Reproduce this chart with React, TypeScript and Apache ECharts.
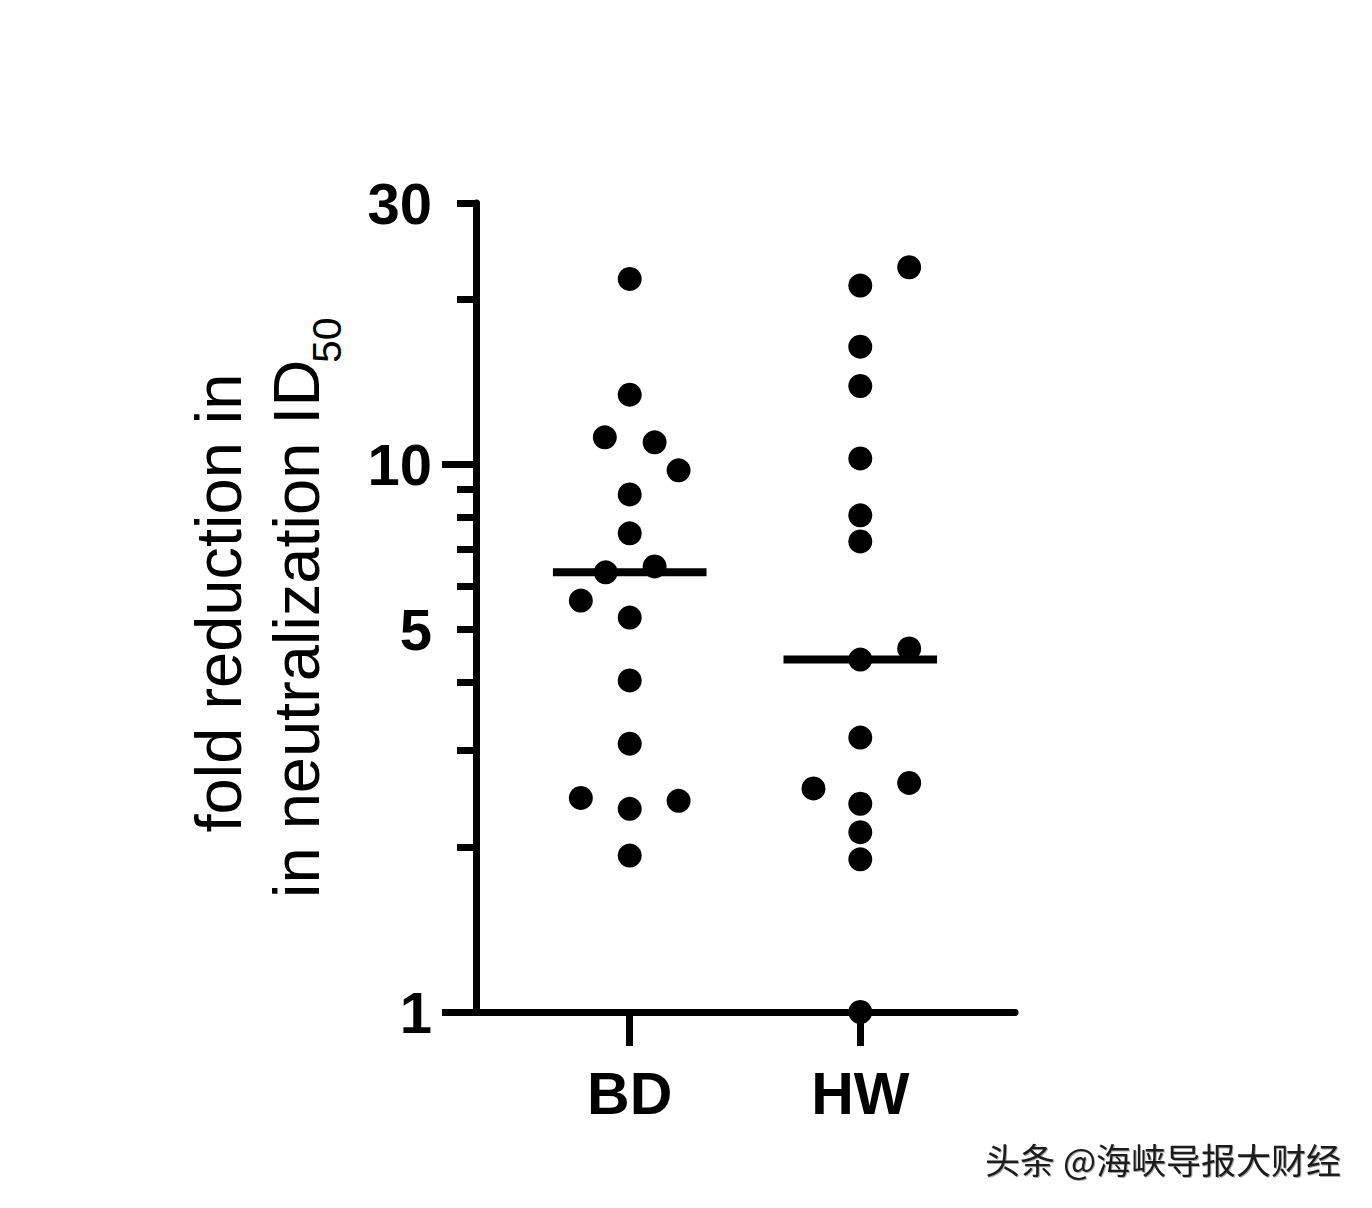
import React, { useEffect, useRef } from 'react';
import * as echarts from 'echarts';

// ---- data ----
const categories = ['BD', 'HW'];
const bdValues = [21.8, 13.4, 11.2, 10.97, 9.75, 8.81, 7.48, 6.35, 6.51, 5.64, 5.25, 4.03, 3.09, 2.46, 2.35, 2.43, 1.93];
const bdJitter = [0, 0, -0.108, 0.108, 0.212, 0, 0, -0.104, 0.108, -0.212, 0, 0, 0, -0.212, 0, 0.212, 0];
const hwValues = [22.9, 21.2, 16.4, 13.9, 10.25, 8.07, 7.23, 4.61, 4.4, 3.17, 2.56, 2.62, 2.4, 2.13, 1.9, 1.0];
const hwJitter = [0.212, 0, 0, 0, 0, 0, 0, 0.212, 0, 0, -0.203, 0.212, 0, 0, 0, 0];
const medians = [6.35, 4.4];
const yLabelValues = [1, 5, 10, 30];
const yMajorTicks = [1, 10];
const yMinorTicks = [2, 3, 4, 5, 6, 7, 8, 9, 20, 30];
const yMin = 1;
const yMax = 30;

const FONT = '"Liberation Sans", Arial, Helvetica, sans-serif';
const LOG_MAX = Math.log10(yMax);
const LOG_MIN = Math.log10(yMin);

export default function App() {
  const ref = useRef<HTMLDivElement>(null);

  useEffect(() => {
    if (!ref.current) return;
    const chart = echarts.init(ref.current, undefined, { renderer: 'svg' });

    const groups = [
      { values: bdValues, jitter: bdJitter },
      { values: hwValues, jitter: hwJitter },
    ];

    const scatterSeries = groups.map((g, gi) => ({
      type: 'scatter',
      xAxisIndex: 0,
      yAxisIndex: 0,
      symbol: 'circle',
      symbolSize: 24,
      clip: false,
      itemStyle: { color: '#000', opacity: 1 },
      z: 5,
      data: g.values.map((v, i) => [gi + 1 + g.jitter[i], v]),
    }));

    const medianSeries = medians.map((m, gi) => ({
      type: 'line',
      xAxisIndex: 0,
      yAxisIndex: 0,
      symbol: 'none',
      clip: false,
      lineStyle: { color: '#000', width: 8, opacity: 1 },
      z: 4,
      data: [
        [gi + 1 - 0.333, m],
        [gi + 1 + 0.333, m],
      ],
    }));

    const axisLineStyle = { color: '#000', width: 7 };

    chart.setOption({
      animation: false,
      backgroundColor: '#ffffff',
      grid: { left: 476, right: 357, top: 203, bottom: 196, containLabel: false },
      xAxis: {
        type: 'value',
        min: 1 / 3,
        max: 2.671,
        axisLine: { show: true, onZero: false, lineStyle: axisLineStyle },
        axisTick: {
          show: true,
          customValues: [1, 2],
          length: 34,
          lineStyle: axisLineStyle,
        },
        axisLabel: {
          show: true,
          customValues: [1, 2],
          formatter: (v: number) => categories[Math.round(v) - 1] || '',
          margin: 52,
          fontSize: 59,
          lineHeight: 59,
          fontWeight: 'bold',
          fontFamily: FONT,
          color: '#000',
        },
        splitLine: { show: false },
      },
      yAxis: [
        {
          type: 'log',
          logBase: 10,
          min: yMin,
          max: yMax,
          position: 'left',
          axisLine: { show: false, onZero: false },
          axisTick: { show: false },
          axisLabel: { show: false },
          splitLine: { show: false },
        },
        {
          type: 'value',
          min: LOG_MIN,
          max: LOG_MAX,
          position: 'left',
          axisLine: { show: true, onZero: false, lineStyle: axisLineStyle },
          axisTick: {
            show: true,
            customValues: yMajorTicks.map((v) => Math.log10(v)),
            length: 34,
            lineStyle: axisLineStyle,
          },
          axisLabel: {
            show: true,
            customValues: yLabelValues.map((v) => Math.log10(v)),
            formatter: (v: number) => String(Math.round(Math.pow(10, v))),
            margin: 44,
            fontSize: 58,
            fontWeight: 'bold',
            fontFamily: FONT,
            color: '#000',
          },
          splitLine: { show: false },
        },
        {
          type: 'value',
          min: LOG_MIN,
          max: LOG_MAX,
          position: 'left',
          axisLine: { show: false, onZero: false },
          axisTick: {
            show: true,
            customValues: yMinorTicks.map((v) => Math.log10(v)),
            length: 19,
            lineStyle: axisLineStyle,
          },
          axisLabel: { show: false },
          splitLine: { show: false },
        },
      ],
      graphic: [
        {
          type: 'text',
          x: 218,
          y: 603,
          rotation: Math.PI / 2,
          style: {
            text: 'fold reduction in',
            font: `65px ${FONT}`,
            fill: '#000',
            align: 'center',
            verticalAlign: 'middle',
          },
        },
        {
          type: 'text',
          x: 296,
          y: 898,
          rotation: Math.PI / 2,
          style: {
            text: 'in neutralization ID',
            font: `65px ${FONT}`,
            fill: '#000',
            align: 'left',
            verticalAlign: 'middle',
          },
        },
        {
          type: 'text',
          x: 327,
          y: 363,
          rotation: Math.PI / 2,
          style: {
            text: '50',
            font: `41px ${FONT}`,
            fill: '#000',
            align: 'left',
            verticalAlign: 'middle',
          },
        },
        {
          type: 'text',
          x: 1341,
          y: 1158,
          style: {
            text: '头条 @海峡导报大财经',
            font: '35px "Noto Sans CJK SC", sans-serif',
            fill: '#1a1a1a',
            align: 'right',
            verticalAlign: 'middle',
            textShadowColor: 'rgba(0,0,0,0.35)',
            textShadowBlur: 1,
            textShadowOffsetX: 1,
            textShadowOffsetY: 1,
          },
        },
      ],
      series: [...scatterSeries, ...medianSeries],
    });

    return () => {
      chart.dispose();
    };
  }, []);

  return (
    <div
      ref={ref}
      style={{ position: 'fixed', left: 0, top: 0, width: 1372, height: 1208, background: '#fff' }}
    />
  );
}
